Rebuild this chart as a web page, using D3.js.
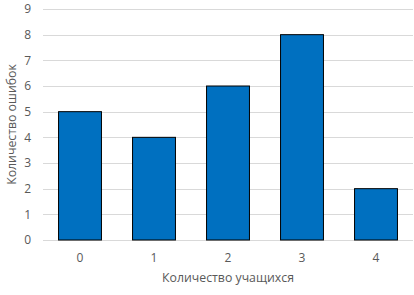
<!DOCTYPE html>
<html>
<head>
<meta charset="utf-8">
<script src="https://cdn.jsdelivr.net/npm/d3@7"></script>
<style>
  body { margin: 0; background: #fff; }
  text { font-family: "Open Sans", "Noto Sans", sans-serif; fill: #595959; }
</style>
</head>
<body>
<svg id="chart"></svg>
<script>
const categories = ["0", "1", "2", "3", "4"];
const errors = [5, 4, 6, 8, 2];
const yTicks = [0, 1, 2, 3, 4, 5, 6, 7, 8, 9];

const W = 414, H = 295;
const margin = { top: 9, right: 1, bottom: 55, left: 43 };
const width = W - margin.left - margin.right,
      height = H - margin.top - margin.bottom;

const svg = d3.select("#chart").attr("width", W).attr("height", H);
const g = svg.append("g").attr("transform", "translate(" + margin.left + "," + margin.top + ")");

const x = d3.scaleBand().domain(categories).range([0, width]).paddingInner(0.42).paddingOuter(0.21);
const y = d3.scaleLinear().domain([0, 9]).range([height, 0]);

// gridlines
g.append("g").selectAll("line").data(yTicks).enter().append("line")
  .attr("x1", 0).attr("x2", width)
  .attr("y1", d => Math.round(y(d)) + 0.5).attr("y2", d => Math.round(y(d)) + 0.5)
  .attr("stroke", "#d9d9d9").attr("stroke-width", 1);

// y axis labels
const yAxis = g.append("g").call(d3.axisLeft(y).tickValues(yTicks).tickSize(0).tickPadding(12));
yAxis.select(".domain").remove();
yAxis.selectAll("text").style("font-size", "12px").attr("fill", "#595959");

// bars
g.selectAll("rect.bar").data(errors).enter().append("rect")
  .attr("class", "bar")
  .attr("x", (d, i) => x(categories[i]))
  .attr("y", d => y(d))
  .attr("width", x.bandwidth())
  .attr("height", d => height - y(d))
  .attr("fill", "#0070c0")
  .attr("stroke", "#000").attr("stroke-width", 1);

// x axis labels
const xAxis = g.append("g").attr("transform", "translate(0," + height + ")")
  .call(d3.axisBottom(x).tickSize(0).tickPadding(13));
xAxis.select(".domain").remove();
xAxis.selectAll("text").style("font-size", "12px").attr("fill", "#595959");

// axis titles
svg.append("text")
  .attr("x", margin.left + width / 2).attr("y", 282)
  .attr("text-anchor", "middle").style("font-size", "12.3px")
  .text("Количество учащихся");

svg.append("text")
  .attr("transform", "translate(16," + (margin.top + height / 2) + ") rotate(-90)")
  .attr("text-anchor", "middle").style("font-size", "12.3px")
  .text("Количество ошибок");
</script>
</body>
</html>
